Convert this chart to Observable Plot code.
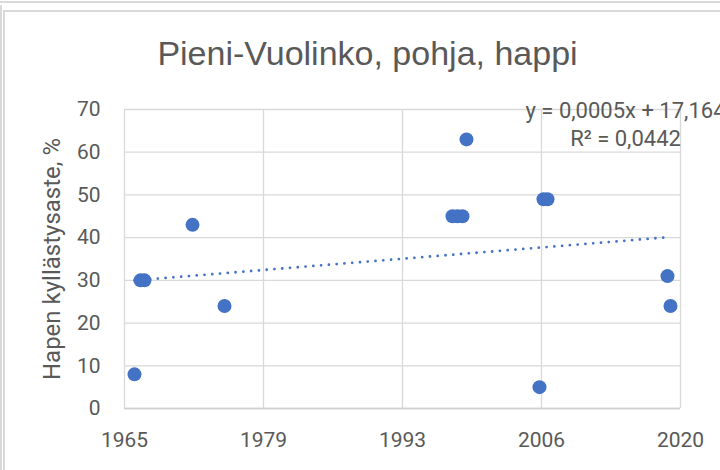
<!DOCTYPE html>
<html>
<head>
<meta charset="utf-8">
<script src="https://cdn.jsdelivr.net/npm/d3@7"></script>
<script src="https://cdn.jsdelivr.net/npm/@observablehq/plot@0.6"></script>
<style>
  html, body { margin: 0; padding: 0; background: #fff; }
  #wrap { position: relative; width: 720px; height: 470px; overflow: hidden; }
  #wrap svg { position: absolute; left: 0; top: 0; }
  .bd { position: absolute; background: #d9d9d9; }
</style>
</head>
<body>
<div id="wrap">
  <div class="bd" style="left:0;top:1px;width:720px;height:2px;"></div>
  <div class="bd" style="left:0;top:5px;width:2px;height:465px;"></div>
  <div class="bd" style="left:4px;top:10px;width:716px;height:1.5px;"></div>
  <div class="bd" style="left:3px;top:10px;width:1.5px;height:460px;"></div>
</div>
<script>
// ---- data ----
const title = "Pieni-Vuolinko, pohja, happi";
const yLabel = "Hapen kyllästysaste, %";
const trendLabels = ["y = 0,0005x + 17,164", "R² = 0,0442"];

const sampleDates = [
  "1966-09-10", "1967-04-14", "1967-09-04", "1972-05-27", "1975-07-22",
  "1998-01-03", "1998-07-02", "1998-12-29", "1999-05-22",
  "2006-07-30", "2006-12-21", "2007-05-14",
  "2019-03-08", "2019-06-24"
];
const oxygenSat = [8, 30, 30, 43, 24, 45, 45, 45, 63, 5, 49, 49, 31, 24];

// Excel date-axis ticks (serial day numbers) shown as years
const xDomain = [24000, 44000];
const xTicks = [24000, 29000, 34000, 39000, 44000];
const yTicks = [0, 10, 20, 30, 40, 50, 60, 70];

// ---- build ----
const excelEpoch = Date.UTC(1899, 11, 30);
const toSerial = s => (Date.parse(s + "T00:00:00Z") - excelEpoch) / 864e5;
const fromSerial = n => new Date(excelEpoch + n * 864e5);
const data = sampleDates.map((d, i) => ({x: toSerial(d), y: oxygenSat[i]}));

const blue = "#4472C4";
const grey = "#595959";
const grid = "#d9d9d9";

const chart = Plot.plot({
  width: 720,
  height: 470,
  marginLeft: 124,
  marginRight: 40,
  marginTop: 109,
  marginBottom: 62,
  style: {fontFamily: "Roboto, 'Liberation Sans', sans-serif", fontSize: "21px", color: grey, background: "transparent", overflow: "hidden"},
  x: {domain: xDomain},
  y: {domain: [0, 70]},
  marks: [
    Plot.gridY(yTicks, {stroke: grid, strokeOpacity: 1, strokeWidth: 1.3}),
    Plot.gridX(xTicks, {stroke: grid, strokeOpacity: 1, strokeWidth: 1.3}),
    Plot.ruleY([0], {stroke: "#cfcfcf", strokeWidth: 1.5}),
    Plot.axisY({ticks: yTicks, tickSize: 0, tickPadding: 24, label: null, fill: grey}),
    Plot.axisX({ticks: xTicks, tickSize: 0, tickPadding: 24, label: null, fill: grey,
                tickFormat: d => String(fromSerial(d).getUTCFullYear())}),
    Plot.linearRegressionY(data, {x: "x", y: "y", ci: 0, stroke: blue, strokeWidth: 2.8,
                strokeDasharray: "0,7.8", strokeLinecap: "round"}),
    Plot.dot(data, {x: "x", y: "y", r: 7, fill: blue, stroke: "none"}),
    Plot.text([title], {frameAnchor: "top", textAnchor: "middle", lineAnchor: "middle",
                dx: -35, dy: -55, fontSize: 34, fill: grey,
                fontFamily: "'Liberation Sans', Arial, sans-serif"}),
    Plot.text([yLabel], {frameAnchor: "left", textAnchor: "middle", lineAnchor: "middle",
                dx: -72, rotate: -90, fontSize: 24, fill: grey}),
    Plot.text([trendLabels[0]], {frameAnchor: "top-right", textAnchor: "middle", lineAnchor: "middle",
                dx: -55, dy: 1, fontSize: 22, fill: grey}),
    Plot.text([trendLabels[1]], {frameAnchor: "top-right", textAnchor: "middle", lineAnchor: "middle",
                dx: -55, dy: 29, fontSize: 22, fill: grey})
  ]
});
document.getElementById("wrap").appendChild(chart);
</script>
</body>
</html>
